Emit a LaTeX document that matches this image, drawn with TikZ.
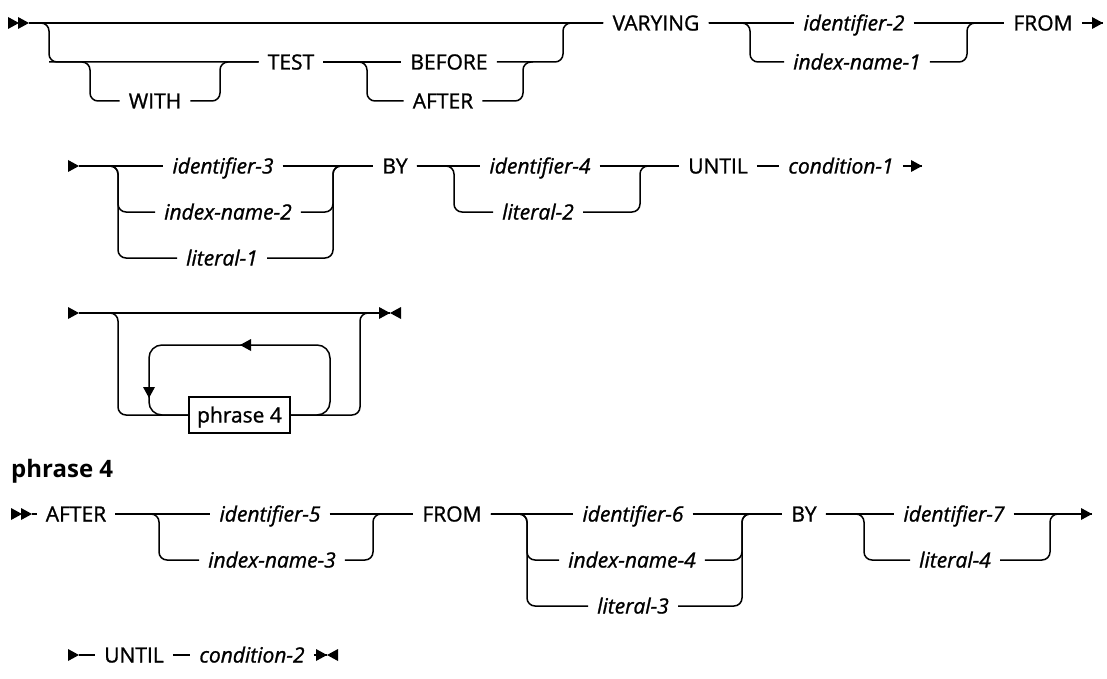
\documentclass[tikz,border=0pt]{standalone}
\usepackage{fontspec}
\setmainfont{Open Sans}[UprightFeatures={FakeBold=1.1}, ItalicFeatures={FakeBold=1.1}]
\newcommand\kwf{\fontsize{21}{25}\selectfont}
\newcommand\varf{\fontsize{21}{25}\selectfont\itshape}
\newcommand\headf{\fontsize{24}{28}\selectfont\bfseries}
\tikzset{
  rail/.style={line width=1.5pt, rounded corners=8pt},
  kw/.style={font=\kwf, inner xsep=9pt, inner ysep=0pt, text height=15pt, text depth=0pt},
  var/.style={kw, font=\varf},
  rtip/.pic={\fill (0,0) -- (-11,-6) -- (-11,6) -- cycle;},
  ltip/.pic={\fill (0,0) -- (11,-6) -- (11,6) -- cycle;},
  dtip/.pic={\fill (0,0) -- (-6,-11) -- (6,-11) -- cycle;},
}
\begin{document}
\begin{tikzpicture}[x=1pt,y=-1pt]
\useasboundingbox (0,0) rectangle (1107,679);

% ---------------- Row 1 ----------------
\coordinate (r1s) at (29,23);
\node[kw]  (with)    at (155,101) {WITH};
\node[kw]  (test)    at (291,62)  {TEST};
\node[kw]  (before)  at (449,62)  {BEFORE};
\node[kw]  (after)   at (443,101) {AFTER};
\node[kw]  (varying) at (656,23)  {VARYING};
\node[var] (id2)     at (854,23)  {identifier-2};
\node[var] (idx1)    at (857,62)  {index-name-1};
\node[kw]  (from1)   at (1043,23) {FROM};
\coordinate (end1) at (1103,23);
\coordinate (b1) at (49,62);
\coordinate (w1) at (90,101);
\coordinate (w2) at (220,62);
\coordinate (ba1) at (367,101);
\coordinate (ba2) at (523,62);
\coordinate (ba2r) at (533,62);
\coordinate (c1) at (563,23);
\coordinate (k1) at (750,62);
\coordinate (k2) at (967,23);
\coordinate (k2r) at (977,23);

\draw[rail] (r1s) -- (varying.west);
\draw[rail] (r1s) -| (b1) -- (test.west);
\draw[rail] (b1) -| (w1) -- (with.west);
\draw[rail] (with.east) -| (w2) -- (test.west);
\draw[rail] (test.east) -- (before.west);
\draw[rail] (test.east) -| (ba1) -- (after.west);
\draw[rail] (after.east) -| (ba2) -- (ba2r);
\draw[rail] (before.east) -| (c1) -- (varying.west);
\draw[rail] (varying.east) -- (id2.west);
\draw[rail] (varying.east) -| (k1) -- (idx1.west);
\draw[rail] (id2.east) -- (from1.west);
\draw[rail] (idx1.east) -| (k2) -- (k2r);
\draw[rail] (from1.east) -- (end1);
\pic at (19,23) {rtip};
\pic at (29,23) {rtip};
\pic at (end1) {rtip};

% ---------------- Row 2 ----------------
\coordinate (r2s) at (79,166);
\node[var] (id3)    at (223,166) {identifier-3};
\node[var] (idx2)   at (228,212) {index-name-2};
\node[var] (lit1)   at (222,258) {literal-1};
\node[kw]  (by1)    at (395,166) {BY};
\node[var] (id4)    at (540,166) {identifier-4};
\node[var] (lit2)   at (538,212) {literal-2};
\node[kw]  (until1) at (718,166) {UNTIL};
\node[var] (cond1)  at (841,166) {condition-1};
\coordinate (end2) at (922,166);
\coordinate (p1) at (118,212);
\coordinate (p2) at (118,258);
\coordinate (q1) at (333,166);
\coordinate (q1r) at (343,166);
\coordinate (u1) at (454,212);
\coordinate (u2) at (640,166);
\coordinate (u2r) at (650,166);

\draw[rail] (r2s) -- (id3.west);
\draw[rail] (r2s) -| (p1) -- (idx2.west);
\draw[rail] (r2s) -| (p2) -- (lit1.west);
\draw[rail] (id3.east) -- (by1.west);
\draw[rail] (idx2.east) -| (q1) -- (q1r);
\draw[rail] (lit1.east) -| (q1) -- (q1r);
\draw[rail] (by1.east) -- (id4.west);
\draw[rail] (by1.east) -| (u1) -- (lit2.west);
\draw[rail] (id4.east) -- (until1.west);
\draw[rail] (lit2.east) -| (u2) -- (u2r);
\draw[rail] (until1.east) -- (cond1.west);
\draw[rail] (cond1.east) -- (end2);
\pic at (r2s) {rtip};
\pic at (end2) {rtip};

% ---------------- Row 3 ----------------
\coordinate (r3s) at (79,313);
\coordinate (e3) at (390,313);
\node[draw, line width=1.5pt, font=\kwf, minimum width=101pt, minimum height=36pt,
      inner sep=0pt, text height=15pt, text depth=0pt] (box) at (239.5,415) {phrase 4};
\coordinate (m1) at (118,415);
\coordinate (m2) at (360,313);
\coordinate (m2r) at (370,313);
\coordinate (l1) at (330,345);
\coordinate (l2) at (149,415);
\coordinate (la) at (240,345);
\coordinate (ld) at (149,398);

\draw[rail] (r3s) -- (e3);
\draw[rail] (r3s) -| (m1) -- (box.west);
\draw[rail] (box.east) -| (m2) -- (m2r);
\draw[line width=1.5pt, rounded corners=13pt] (box.east) -| (l1) -| (l2) -- (box.west);
\pic at (r3s) {rtip};
\pic at (e3) {rtip};
\pic at (e3) {ltip};
\pic at (la) {ltip};
\pic at (ld) {dtip};

% ---------------- Heading ----------------
\node[font=\headf, anchor=base west, inner sep=0pt] (head) at (11,477) {phrase 4};

% ---------------- Row 4 ----------------
\coordinate (r4s) at (32,514);
\node[kw]  (after4) at (76,514)  {AFTER};
\node[var] (id5)    at (270,514) {identifier-5};
\node[var] (idx3)   at (272,560) {index-name-3};
\node[kw]  (from4)  at (452,514) {FROM};
\node[var] (id6)    at (633,514) {identifier-6};
\node[var] (idx4)   at (632,560) {index-name-4};
\node[var] (lit3)   at (633,606) {literal-3};
\node[kw]  (by4)    at (804,514) {BY};
\node[var] (id7)    at (954,514) {identifier-7};
\node[var] (lit4)   at (955,560) {literal-4};
\coordinate (end4) at (1092,514);
\coordinate (s41) at (159,560);
\coordinate (s42) at (373,514);
\coordinate (s42r) at (383,514);
\coordinate (s43) at (527,560);
\coordinate (s44) at (527,606);
\coordinate (s45) at (742,514);
\coordinate (s45r) at (752,514);
\coordinate (s46) at (864,560);
\coordinate (s47) at (1050,514);
\coordinate (s47r) at (1060,514);

\draw[rail] (r4s) -- (after4.west);
\draw[rail] (after4.east) -- (id5.west);
\draw[rail] (after4.east) -| (s41) -- (idx3.west);
\draw[rail] (id5.east) -- (from4.west);
\draw[rail] (idx3.east) -| (s42) -- (s42r);
\draw[rail] (from4.east) -- (id6.west);
\draw[rail] (from4.east) -| (s43) -- (idx4.west);
\draw[rail] (from4.east) -| (s44) -- (lit3.west);
\draw[rail] (id6.east) -- (by4.west);
\draw[rail] (idx4.east) -| (s45) -- (s45r);
\draw[rail] (lit3.east) -| (s45) -- (s45r);
\draw[rail] (by4.east) -- (id7.west);
\draw[rail] (by4.east) -| (s46) -- (lit4.west);
\draw[rail] (id7.east) -- (end4);
\draw[rail] (lit4.east) -| (s47) -- (s47r);
\pic at (22,514) {rtip};
\pic at (32,514) {rtip};
\pic at (end4) {rtip};

% ---------------- Row 5 ----------------
\coordinate (r5s) at (79,655);
\node[kw]  (until5) at (134,655) {UNTIL};
\node[var] (cond2)  at (252,655) {condition-2};
\coordinate (e5) at (327,655);
\draw[rail] (r5s) -- (until5.west);
\draw[rail] (until5.east) -- (cond2.west);
\draw[rail] (cond2.east) -- (e5);
\pic at (r5s) {rtip};
\pic at (e5) {rtip};
\pic at (e5) {ltip};
\end{tikzpicture}
\end{document}
